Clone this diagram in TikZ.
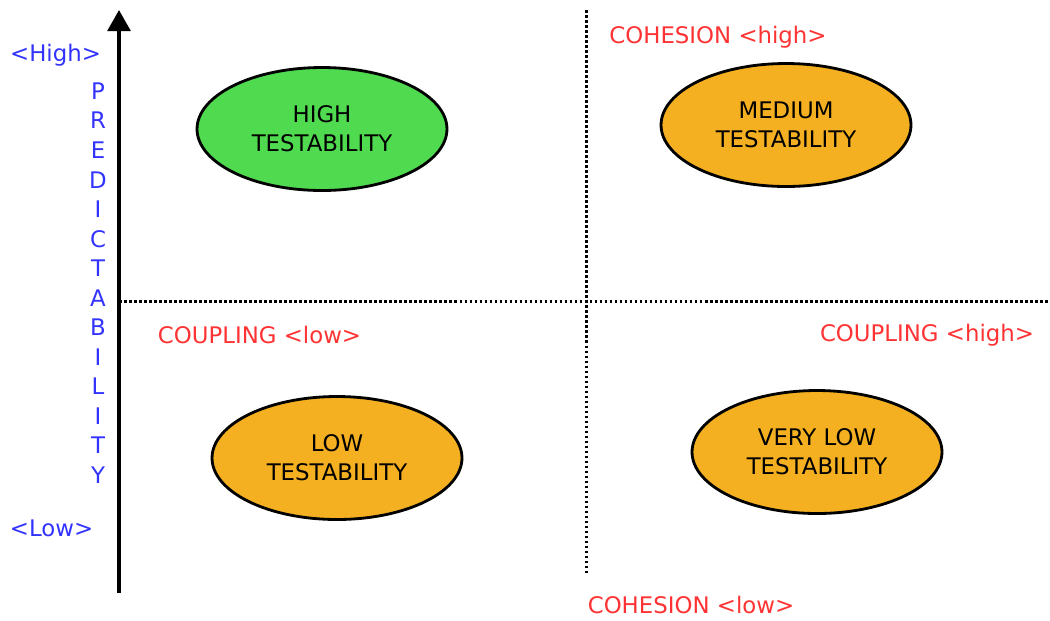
\documentclass[tikz,border=0pt]{standalone}
\usepackage{fontspec}
\setmainfont{DejaVu Sans}
\usepackage{tikz}
\usetikzlibrary{arrows.meta}
\usetikzlibrary{positioning,shapes.geometric}
\definecolor{axisblue}{RGB}{51,51,255}
\definecolor{labelred}{RGB}{255,51,51}
\definecolor{goodgreen}{RGB}{80,218,80}
\definecolor{midorange}{RGB}{244,176,32}

\begin{document}
\begin{tikzpicture}[x=0.02cm, y=-0.02cm,
	every node/.style={font=\fontsize{13}{16.5}\selectfont, inner sep=0pt},
	quadrant/.style={ellipse, draw, line width=1.6pt, minimum width=5cm, minimum height=2.46cm, align=center},
	bluetext/.style={text=axisblue, yshift=-1.7pt},
	redtext/.style={text=labelred, yshift=-1.7pt},
	grid/.style={line width=1.7pt, dash pattern=on 1.5pt off 1.35pt}]
		\useasboundingbox (0,0) rectangle (1050,620);
		% axes
		\coordinate (origin) at (119,593);
		\coordinate (top) at (119,10);
		\coordinate (hleft) at (119,301);
		\coordinate (hright) at (1050,301);
		\coordinate (vtop) at (586,10);
		\coordinate (vbottom) at (586,573);
		\draw[line width=2pt, -{Triangle[length=12pt,width=13pt]}] (origin) -- (top);
		\draw[grid] (hleft) -- (hright);
		\draw[grid] (vtop) -- (vbottom);
		% labels
		\node[bluetext] (high) at (55.5,52) {<High>};
		\node[bluetext] (low) at (51.5,525) {<Low>};
		\node[bluetext, align=center, font=\fontsize{13}{16.8}\selectfont] (pred) at (98,280)
			{P\\R\\E\\D\\I\\C\\T\\A\\B\\I\\L\\I\\T\\Y};
		\node[redtext] (cohhigh) at (718,34) {COHESION <high>};
		\node[redtext] (cohlow) at (691,602) {COHESION <low>};
		\node[redtext] (couplow) at (259.5,332) {COUPLING <low>};
		\node[redtext] (couphigh) at (927,332) {COUPLING <high>};
		% quadrants
		\node[quadrant, fill=goodgreen] (hightest) at (322,129) {HIGH\\TESTABILITY};
		\node[quadrant, fill=midorange] (medtest) at (786,125) {MEDIUM\\TESTABILITY};
		\node[quadrant, fill=midorange] (lowtest) at (337,458) {LOW\\TESTABILITY};
		\node[quadrant, fill=midorange] (verylowtest) at (817,452) {VERY LOW\\TESTABILITY};
	\end{tikzpicture}
\end{document}
